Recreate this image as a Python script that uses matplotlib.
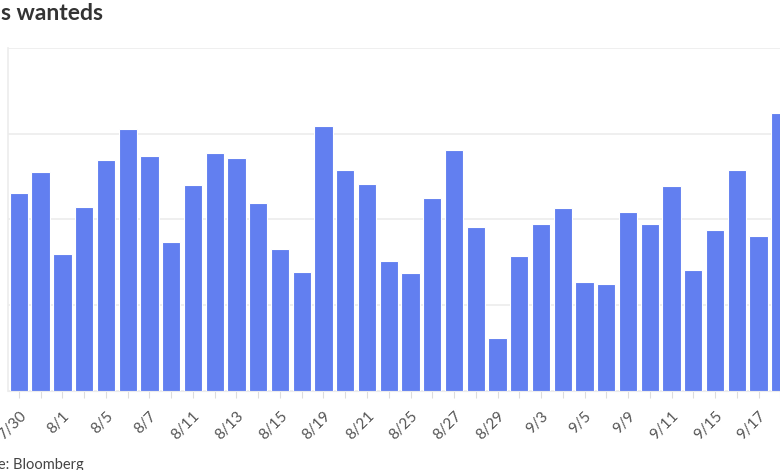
import matplotlib

matplotlib.use("Agg")
import matplotlib.pyplot as plt
import numpy as np

plt.rcParams["font.family"] = ["Lato", "DejaVu Sans"]

# trading days shown in the (cropped) chart
dates = [
    "7/30", "7/31", "8/1", "8/4", "8/5", "8/6", "8/7", "8/8",
    "8/11", "8/12", "8/13", "8/14", "8/15", "8/18", "8/19", "8/20",
    "8/21", "8/22", "8/25", "8/26", "8/27", "8/28", "8/29", "9/2",
    "9/3", "9/4", "9/5", "9/8", "9/9", "9/10", "9/11", "9/12",
    "9/15", "9/16", "9/17", "9/18",
]
counts = [
    231, 255, 160, 214, 269, 305, 274, 173,
    240, 277, 272, 219, 165, 138, 309, 258,
    241, 151, 137, 225, 281, 191, 62, 157,
    195, 213, 127, 124, 209, 195, 239, 141,
    188, 258, 180, 324,
]
grid_levels = [0, 100, 200, 300, 400]

BAR = "#627ff0"
GRID = "#ececec"

fig = plt.figure(figsize=(7.8, 4.7), dpi=100)
W, H = 780, 470
# axes runs off the right edge of the canvas (the reference is a crop)
ax = fig.add_axes([8 / W, 79.3 / H, 805 / W, 342.7 / H])

x = np.arange(len(dates))
ax.bar(x, counts, width=0.84, color=BAR, edgecolor="white", linewidth=0.8, zorder=3)

ax.set_xlim(-0.5, 36.5)
ax.set_ylim(0, 400)
ax.set_yticks(grid_levels)
ax.set_yticklabels([])
ax.tick_params(axis="y", length=0)
ax.grid(axis="y", color=GRID, linewidth=1.2, zorder=0)

ax.set_xticks(x)
ax.set_xticklabels([d if i % 2 == 0 else "" for i, d in enumerate(dates)],
                   rotation=45, ha="right", rotation_mode="anchor",
                   fontsize=11, color="#555555")
ax.tick_params(axis="x", length=5, color="#dddddd", pad=8)

for side in ["top", "right"]:
    ax.spines[side].set_visible(False)
ax.spines["left"].set_color(GRID)
ax.spines["bottom"].set_color(GRID)
ax.spines["left"].set_linewidth(1.2)

# title and source note are cut off at the left edge in the reference
fig.text(103 / W, 1 - 3 / H, "Bids wanteds", ha="right", va="top",
         fontsize=16.5, fontweight="bold", color="#333333")
fig.text(84 / W, 12 / H, "Source: Bloomberg", ha="right", va="top",
         fontsize=10.5, color="#444444")

fig.savefig("out.png", dpi=100)
